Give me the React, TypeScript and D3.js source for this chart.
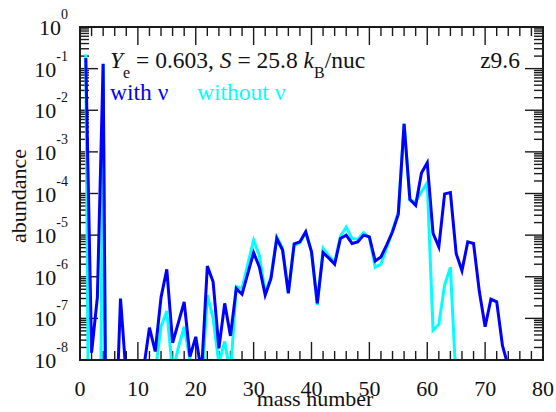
import React from "react";
import * as d3 from "d3";

const massNumber = [
  1, 2, 3, 4, 5, 6, 7, 8, 9, 10, 11, 12, 13, 14, 15, 16, 17, 18, 19, 20,
  21, 22, 23, 24, 25, 26, 27, 28, 29, 30, 31, 32, 33, 34, 35, 36, 37, 38, 39, 40,
  41, 42, 43, 44, 45, 46, 47, 48, 49, 50, 51, 52, 53, 54, 55, 56, 57, 58, 59, 60,
  61, 62, 63, 64, 65, 66, 67, 68, 69, 70, 71, 72, 73, 74, 75,
];

const withNu = [
  1.8e-1, 1.5e-8, 3.2e-7, 1.3e-1, 1e-20, 4e-11, 3.0e-7, 3.7e-9, 1e-12, 1e-12,
  6.3e-9, 6.0e-8, 1.6e-8, 3.2e-7, 1.5e-6, 2.6e-8, 7.9e-8, 2.5e-7, 1.2e-8, 3.6e-8,
  5e-9, 1.8e-6, 7.6e-7, 1.9e-8, 2.3e-7, 3.8e-8, 5.2e-7, 3.8e-7, 1.2e-6, 3.8e-6,
  1.7e-6, 3.6e-7, 9.1e-7, 8.3e-6, 4.4e-6, 4.0e-7, 6.2e-6, 6.9e-6, 1.2e-5, 4.0e-6,
  2.3e-7, 3.8e-6, 2.8e-6, 2.0e-6, 8.3e-6, 1.0e-5, 6.3e-6, 6.9e-6, 1.0e-5, 9.1e-6,
  2.4e-6, 3.0e-6, 5.8e-6, 1.2e-5, 3.2e-5, 4.7e-3, 7.2e-5, 5.2e-5, 3.1e-4, 5.5e-4,
  1.1e-5, 5.2e-6, 9.8e-5, 1.05e-4, 3.6e-6, 1.4e-6, 6.9e-6, 6.3e-6, 4.4e-7, 6.3e-8,
  2.9e-7, 2.5e-7, 2.2e-8, 7e-9, 1e-12,
];

const withoutNu = [
  2.2e-1, 1e-20, 1e-20, 1.26e-1, 1e-20, 1e-20, 1e-20, 1e-20, 1e-20, 1e-20,
  1e-20, 1e-12, 5.2e-9, 6.3e-8, 1.5e-7, 5e-9, 2e-8, 6.3e-8, 1e-8, 3e-10,
  2e-9, 3.6e-7, 1e-7, 8e-9, 2.8e-8, 4.5e-9, 5.8e-7, 5.2e-7, 2.0e-6, 7.6e-6,
  3.2e-6, 4.0e-7, 1.0e-6, 8.9e-6, 4.7e-6, 4.2e-7, 5.6e-6, 6.6e-6, 1.17e-5, 4.0e-6,
  2.1e-7, 4.8e-6, 3.2e-6, 2.2e-6, 9.5e-6, 1.55e-5, 8.3e-6, 7.9e-6, 1.15e-5, 8.7e-6,
  1.7e-6, 2.0e-6, 5e-6, 1.3e-5, 3.6e-5, 4.8e-3, 6.9e-5, 6.3e-5, 1.1e-4, 1.8e-4,
  5.2e-8, 7.2e-8, 6.3e-7, 1.7e-6, 2.6e-9, 1e-20, 1e-20, 1e-20, 1e-20, 1e-20,
  1e-20, 1e-20, 1e-20, 1e-20, 1e-20,
];

const xTickValues = [0, 10, 20, 30, 40, 50, 60, 70, 80];
const yTickExponents = [0, -1, -2, -3, -4, -5, -6, -7, -8];

const W = 556;
const H = 412;
const L = 80, R = 543, T = 27, B = 360;
const FONT = "'Liberation Serif', 'Times New Roman', serif";
const AXIS = "#1a1a1a";

export default function App() {
  const x = d3.scaleLinear().domain([0, 80]).range([L, R]);
  const y = d3.scaleLog().domain([1e-8, 1]).range([B, T]);

  const line = d3
    .line<number>()
    .x((_, i) => x(massNumber[i]))
    .y((v) => y(v));

  const minorX = d3.range(0, 81, 2).filter((v) => v % 10 !== 0);
  const minorY: number[] = [];
  for (let e = -8; e < 0; e++) {
    for (let m = 2; m <= 9; m++) minorY.push(m * Math.pow(10, e));
  }

  const major = 18;
  const minor = 9;
  const LF = 23.5;
  const SF = 16;

  return (
    <svg
      width={W}
      height={H}
      style={{ position: "absolute", left: 0, top: 0, background: "#fff" }}
      fontFamily={FONT}
    >
      <defs>
        <clipPath id="plot">
          <rect x={L} y={T} width={R - L} height={B - T} />
        </clipPath>
      </defs>
      <rect x={0} y={0} width={W} height={H} fill="#fff" />

      {/* ticks */}
      <g stroke={AXIS} strokeWidth={1.4}>
        {xTickValues.map((v) => (
          <g key={"xM" + v}>
            <line x1={x(v)} x2={x(v)} y1={B} y2={B - major} />
            <line x1={x(v)} x2={x(v)} y1={T} y2={T + major} />
          </g>
        ))}
        {minorX.map((v) => (
          <g key={"xm" + v}>
            <line x1={x(v)} x2={x(v)} y1={B} y2={B - minor} />
            <line x1={x(v)} x2={x(v)} y1={T} y2={T + minor} />
          </g>
        ))}
        {yTickExponents.map((e) => (
          <g key={"yM" + e}>
            <line x1={L} x2={L + major} y1={y(Math.pow(10, e))} y2={y(Math.pow(10, e))} />
            <line x1={R} x2={R - major} y1={y(Math.pow(10, e))} y2={y(Math.pow(10, e))} />
          </g>
        ))}
        {minorY.map((v, i) => (
          <g key={"ym" + i}>
            <line x1={L} x2={L + minor} y1={y(v)} y2={y(v)} />
            <line x1={R} x2={R - minor} y1={y(v)} y2={y(v)} />
          </g>
        ))}
      </g>

      {/* data */}
      <g clipPath="url(#plot)" fill="none" strokeWidth={3} strokeLinejoin="miter">
        <path d={line(withoutNu) || ""} stroke="#00ffff" />
        <path d={line(withNu) || ""} stroke="#0000ff" />
      </g>

      {/* frame */}
      <rect x={L} y={T} width={R - L} height={B - T} fill="none" stroke={AXIS} strokeWidth={2} />

      {/* y tick labels */}
      {yTickExponents.map((e) => (
        <text key={"yl" + e} x={68} y={y(Math.pow(10, e)) + 8} textAnchor="end" fontSize={22} fill="#111">
          10
          <tspan fontSize={14} dy={-16}>
            {e}
          </tspan>
        </text>
      ))}

      {/* x tick labels */}
      {xTickValues.map((v) => (
        <text key={"xl" + v} x={x(v)} y={396} textAnchor="middle" fontSize={22} fill="#111">
          {v}
        </text>
      ))}

      {/* axis titles */}
      <text x={315} y={406} textAnchor="middle" fontSize={22} fill="#111">
        mass number
      </text>
      <text
        transform="translate(26,196) rotate(-90)"
        textAnchor="middle"
        fontSize={22}
        fill="#111"
      >
        abundance
      </text>

      {/* annotations */}
      <text x={110} y={68} fontSize={LF} fill="#111">
        <tspan fontStyle="italic">Y</tspan>
        <tspan fontSize={SF} dy={10}>e</tspan>
        <tspan dy={-10}> = 0.603, </tspan>
        <tspan fontStyle="italic">S</tspan>
        <tspan> = 25.8 </tspan>
        <tspan fontStyle="italic">k</tspan>
        <tspan fontSize={SF} dy={10}>B</tspan>
        <tspan dy={-10}>/nuc</tspan>
      </text>
      <text x={520} y={68} textAnchor="end" fontSize={LF} fill="#111">
        z9.6
      </text>
      <text x={110} y={100} fontSize={LF} fill="#0000ff">
        with ν
      </text>
      <text x={197} y={100} fontSize={LF} fill="#00ffff">
        without ν
      </text>
    </svg>
  );
}
